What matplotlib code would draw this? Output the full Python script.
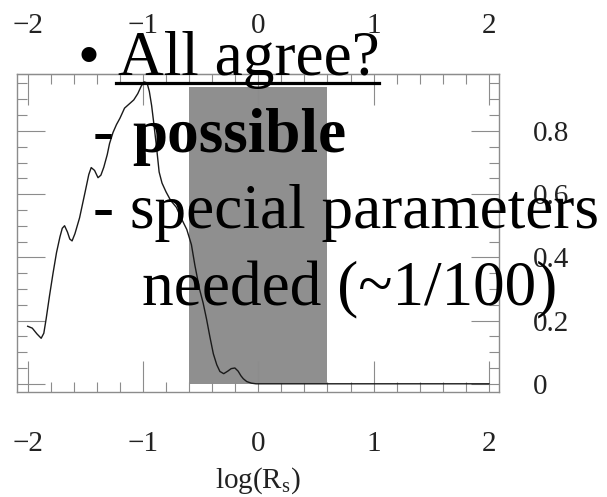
import matplotlib
matplotlib.use("Agg")
import matplotlib.pyplot as plt
from matplotlib.ticker import FixedLocator, FixedFormatter, MultipleLocator
from matplotlib.lines import Line2D

plt.rcParams["font.family"] = ["Liberation Serif", "DejaVu Serif"]
plt.rcParams["mathtext.fontset"] = "custom"
plt.rcParams["mathtext.rm"] = "Liberation Serif"
plt.rcParams["mathtext.it"] = "Liberation Serif:italic"

# probability distribution over log(R_s)
log_rs = [-2.00, -1.96, -1.92, -1.883, -1.86, -1.84, -1.81, -1.78, -1.75, -1.72,
          -1.70, -1.68, -1.655, -1.635, -1.615, -1.59, -1.55, -1.50, -1.47, -1.449,
          -1.42, -1.39, -1.365, -1.34, -1.31, -1.29, -1.26, -1.23, -1.20, -1.16,
          -1.12, -1.08, -1.045, -1.015, -0.99, -0.965, -0.945, -0.925, -0.905, -0.883,
          -0.86, -0.835, -0.80, -0.76, -0.71, -0.67, -0.62, -0.58, -0.55, -0.51,
          -0.478, -0.449, -0.42, -0.39, -0.36, -0.333, -0.30, -0.265, -0.235, -0.203,
          -0.175, -0.15, -0.13, -0.10, -0.06, -0.02, 2.00]
prob = [0.182, 0.176, 0.158, 0.144, 0.160, 0.205, 0.28, 0.35, 0.415, 0.465,
        0.492, 0.50, 0.48, 0.458, 0.452, 0.475, 0.525, 0.61, 0.662, 0.684,
        0.675, 0.652, 0.66, 0.685, 0.725, 0.76, 0.795, 0.82, 0.84, 0.872,
        0.885, 0.898, 0.918, 0.942, 0.955, 0.952, 0.925, 0.88, 0.82, 0.75,
        0.67, 0.635, 0.607, 0.58, 0.558, 0.525, 0.488, 0.44, 0.375, 0.30,
        0.255, 0.205, 0.149, 0.095, 0.06, 0.039, 0.032, 0.04, 0.048, 0.05,
        0.04, 0.025, 0.016, 0.007, 0.002, 0.0, 0.0]

# allowed band
band_lo, band_hi = -0.6, 0.6
band_top = 0.94

x_ticks = [-2, -1, 0, 1, 2]
x_labels = ["\u22122", "\u22121", "0", "1", "2"]
y_ticks = [0, 0.2, 0.4, 0.6, 0.8]
y_labels = ["0", "0.2", "0.4", "0.6", "0.8"]

W, H = 607, 497
fig = plt.figure(figsize=(W / 100, H / 100), dpi=100)
ax = fig.add_axes([17.3 / W, 1 - 391.7 / H, (499.3 - 17.3) / W, (391.7 - 74) / H])
ax.set_xlim(-2.09, 2.09)
ax.set_ylim(-0.025, 0.98)

frame_col = "#8c8c8c"
ax.fill_between([band_lo, band_hi], 0, band_top, color="#8f8f8f", lw=0, zorder=1)
ax.plot(log_rs, prob, color="#1a1a1a", lw=1.0, zorder=3)

for s in ax.spines.values():
    s.set_color(frame_col)
    s.set_linewidth(1.0)

ax.xaxis.set_major_locator(FixedLocator(x_ticks))
ax.xaxis.set_major_formatter(FixedFormatter(x_labels))
ax.xaxis.set_minor_locator(MultipleLocator(0.2))
ax.yaxis.set_major_locator(FixedLocator(y_ticks))
ax.yaxis.set_major_formatter(FixedFormatter(y_labels))
ax.yaxis.set_minor_locator(MultipleLocator(0.05))

ax.tick_params(axis="both", which="both", direction="in", colors=frame_col,
               labelcolor="#222222", labelsize=21, width=0.8)
ax.tick_params(axis="x", which="major", length=22, top=True, bottom=True,
               labeltop=False, labelbottom=True, pad=28.4)
ax.tick_params(axis="x", which="minor", length=7.2, top=True, bottom=True)
ax.tick_params(axis="y", which="major", length=20.5, left=True, right=True,
               labelleft=False, labelright=True, pad=24.5)
ax.tick_params(axis="y", which="minor", length=7.2, left=True, right=True)

top = ax.secondary_xaxis("top")
top.xaxis.set_major_locator(FixedLocator(x_ticks))
top.xaxis.set_major_formatter(FixedFormatter(x_labels))
top.tick_params(axis="x", which="both", length=0, labelsize=21,
                labelcolor="#222222", pad=25.5)
top.spines["top"].set_color(frame_col)

ax.set_xlabel(r"log(R$_{\mathrm{s}}$)", fontsize=21, color="#222222")
ax.xaxis.set_label_coords(0.5, -0.232)

# slide text on top of the figure
fs = 45.5


def px(x, y):
    return x / W, 1 - y / H


fig.text(*px(88.3, 75), "\u2022", fontsize=fs, ha="center", va="baseline")
t_all = fig.text(*px(117.5, 75), "All agree?", fontsize=fs, ha="left", va="baseline")
fig.text(*px(93.0, 151.7), "-", fontsize=fs, ha="left", va="baseline")
fig.text(*px(132.0, 151.7), "possible", fontsize=fs, fontweight="bold",
         ha="left", va="baseline")
fig.text(*px(93.0, 228.3), "- special parameters", fontsize=fs, ha="left", va="baseline")
fig.text(*px(142.5, 305), "needed (~1/100)", fontsize=fs, ha="left", va="baseline")

# underline for the heading
fig.canvas.draw()
bb = t_all.get_window_extent()
fig.add_artist(Line2D([bb.x0 / W - 0.002, bb.x1 / W],
                      [1 - 82.7 / H, 1 - 82.7 / H],
                      transform=fig.transFigure, color="black", lw=2.3))

fig.savefig("out.png", dpi=100)
